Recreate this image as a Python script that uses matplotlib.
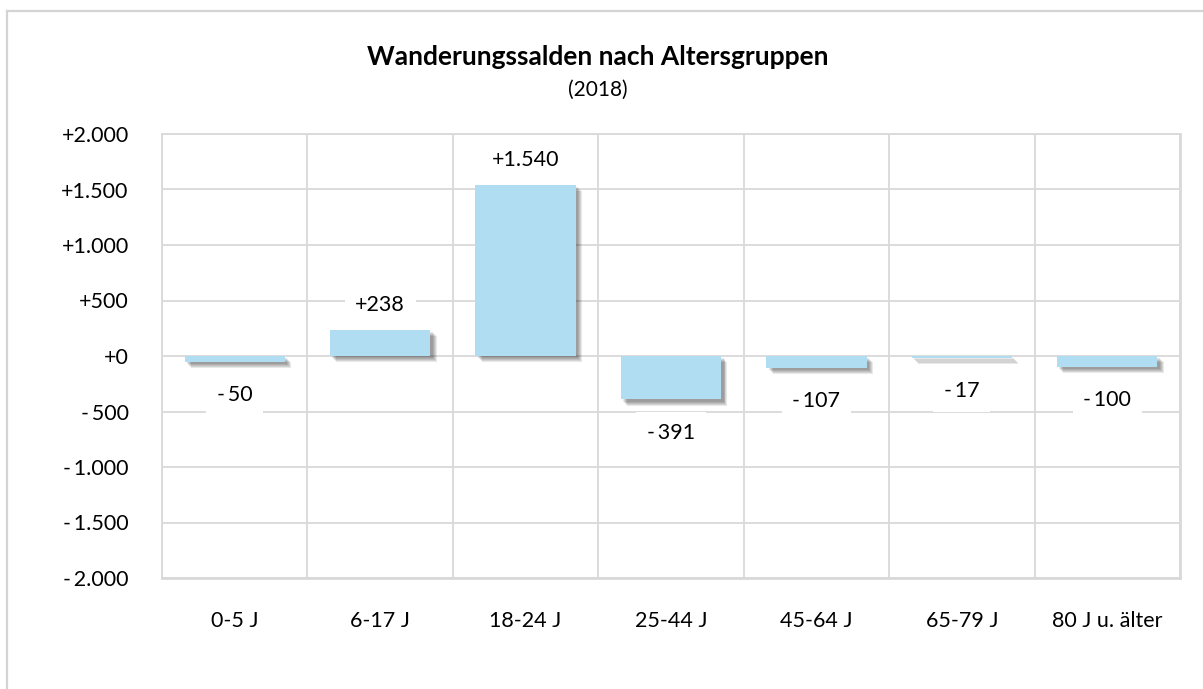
import matplotlib
matplotlib.use("Agg")
import matplotlib.pyplot as plt
import matplotlib.patheffects as pe
from matplotlib.lines import Line2D
import numpy as np

categories = ["0-5 J", "6-17 J", "18-24 J", "25-44 J", "45-64 J", "65-79 J", "80 J u. älter"]
values = [-50, 238, 1540, -391, -107, -17, -100]
yticks = [-2000, -1500, -1000, -500, 0, 500, 1000, 1500, 2000]
title = "Wanderungssalden nach Altersgruppen"
subtitle = "(2018)"

plt.rcParams['font.family'] = ['Lato', 'DejaVu Sans']

def fmt(v):
    s = f"{v:+,.0f}".replace(",", ".")
    if s.startswith("-"):
        s = "-\u2009" + s[1:]
    return s

fig = plt.figure(figsize=(12.03, 6.89), dpi=100)
fig.patch.set_facecolor("white")

# figure frame (left and top edges)
fig.add_artist(Line2D([7/1203, 7/1203], [0, 1 - 11/689], transform=fig.transFigure,
                      color="#d4d4d4", lw=1.6))
fig.add_artist(Line2D([7/1203, 1], [1 - 11/689, 1 - 11/689], transform=fig.transFigure,
                      color="#d4d4d4", lw=1.6))

ax = fig.add_axes([162/1203, 1 - 578/689, (1180 - 162)/1203, (578 - 134)/689])
x = np.arange(len(categories))
shadow = [pe.SimplePatchShadow(offset=(d, -d), shadow_rgbFace="#000000", alpha=0.09)
          for d in (4.5, 3.8, 3.1, 2.4, 1.7)] + [pe.Normal()]
bars = ax.bar(x, values, width=0.69, color="#b1ddf3", zorder=3)
for b in bars:
    b.set_path_effects(shadow)

ax.set_xlim(-0.5, len(categories) - 0.5)
ax.set_ylim(min(yticks), max(yticks))
ax.set_yticks(yticks)
ax.set_yticklabels([fmt(v) for v in yticks])
ax.set_xticks(x)
ax.set_xticklabels(categories)
ax.tick_params(axis="both", length=0, labelsize=15.5, colors="black")
ax.tick_params(axis="x", pad=24)
ax.tick_params(axis="y", pad=24)

ax.yaxis.grid(True, color="#d9d9d9", lw=1.3, zorder=0)
ax.set_xticks(np.arange(-0.5, len(categories), 1), minor=True)
ax.xaxis.grid(True, which="minor", color="#d9d9d9", lw=1.3, zorder=0)
ax.tick_params(axis="x", which="minor", length=0)
for s in ax.spines.values():
    s.set_color("#d9d9d9")
    s.set_linewidth(1.3)
ax.spines["bottom"].set_linewidth(2)
ax.spines["right"].set_linewidth(2)
ax.set_axisbelow(True)

for xi, v in zip(x, values):
    off = 18 if v >= 0 else -24
    ax.annotate(fmt(v), (xi, v), xytext=(0, off), textcoords="offset points",
                ha="center", va="center", fontsize=15.5, zorder=5,
                bbox=dict(boxstyle="square,pad=0.5", fc="white", ec="none"))

fig.text(598/1203, 1 - 57/689, title, ha="center", va="center", fontsize=19, fontweight="bold")
fig.text(598/1203, 1 - 90/689, subtitle, ha="center", va="center", fontsize=15)

fig.savefig("out.png", dpi=100, facecolor="white")
